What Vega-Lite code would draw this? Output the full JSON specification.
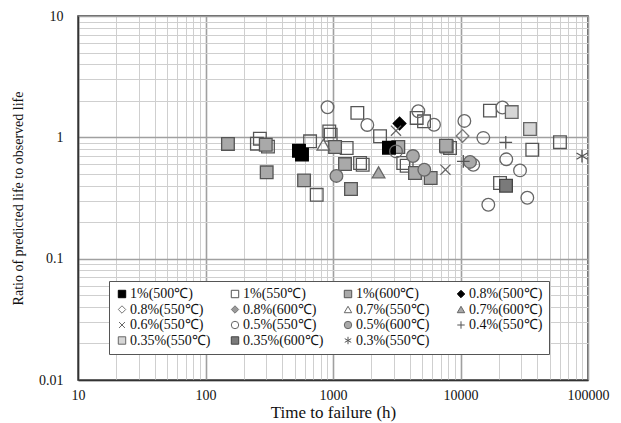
{
  "$schema": "https://vega.github.io/schema/vega-lite/v6.json",
  "autosize": "none",
  "padding": {"left": 78, "top": 16, "right": 33, "bottom": 43},
  "width": 510,
  "height": 364,
  "config": {
    "font": "Liberation Serif",
    "view": {"stroke": "#333", "strokeWidth": 1.5},
    "background": "white"
  },
  "data": {
    "values": [
      {"s": "1%(550℃)", "t": 267, "r": 0.975},
      {"s": "1%(550℃)", "t": 253, "r": 0.887},
      {"s": "1%(550℃)", "t": 309, "r": 0.838},
      {"s": "1%(550℃)", "t": 661, "r": 0.927},
      {"s": "1%(550℃)", "t": 745, "r": 0.336},
      {"s": "1%(550℃)", "t": 1552, "r": 1.59},
      {"s": "1%(550℃)", "t": 935, "r": 1.12},
      {"s": "1%(550℃)", "t": 959, "r": 1.05},
      {"s": "1%(550℃)", "t": 1280, "r": 0.817},
      {"s": "1%(550℃)", "t": 1630, "r": 0.614},
      {"s": "1%(550℃)", "t": 1710, "r": 0.594},
      {"s": "1%(550℃)", "t": 2339, "r": 1.02},
      {"s": "1%(550℃)", "t": 3556, "r": 0.614},
      {"s": "1%(550℃)", "t": 3783, "r": 0.583},
      {"s": "1%(550℃)", "t": 4530, "r": 1.445},
      {"s": "1%(550℃)", "t": 5176, "r": 1.355},
      {"s": "1%(550℃)", "t": 7800, "r": 0.84},
      {"s": "1%(550℃)", "t": 8280, "r": 0.817},
      {"s": "1%(550℃)", "t": 17020, "r": 1.66},
      {"s": "1%(550℃)", "t": 20420, "r": 0.42},
      {"s": "1%(550℃)", "t": 36560, "r": 0.79},
      {"s": "1%(550℃)", "t": 60260, "r": 0.912},
      {"s": "1%(600℃)", "t": 150, "r": 0.882},
      {"s": "1%(600℃)", "t": 297, "r": 0.869},
      {"s": "1%(600℃)", "t": 302, "r": 0.515},
      {"s": "1%(600℃)", "t": 593, "r": 0.442},
      {"s": "1%(600℃)", "t": 1038, "r": 0.832},
      {"s": "1%(600℃)", "t": 1242, "r": 0.602},
      {"s": "1%(600℃)", "t": 1384, "r": 0.375},
      {"s": "1%(600℃)", "t": 3252, "r": 0.832},
      {"s": "1%(600℃)", "t": 4396, "r": 0.508},
      {"s": "1%(600℃)", "t": 5837, "r": 0.462},
      {"s": "1%(600℃)", "t": 7690, "r": 0.853},
      {"s": "1%(500℃)", "t": 541, "r": 0.776},
      {"s": "1%(500℃)", "t": 571, "r": 0.72},
      {"s": "1%(500℃)", "t": 2748, "r": 0.822},
      {"s": "0.8%(500℃)", "t": 3327, "r": 1.3},
      {"s": "0.8%(550℃)", "t": 10380, "r": 1.026},
      {"s": "0.7%(550℃)", "t": 840, "r": 0.869},
      {"s": "0.7%(600℃)", "t": 2277, "r": 0.515},
      {"s": "0.6%(550℃)", "t": 3119, "r": 1.135},
      {"s": "0.6%(550℃)", "t": 7620, "r": 0.541},
      {"s": "0.5%(550℃)", "t": 906, "r": 1.77},
      {"s": "0.5%(550℃)", "t": 1858, "r": 1.265},
      {"s": "0.5%(550℃)", "t": 3119, "r": 0.766},
      {"s": "0.5%(550℃)", "t": 4667, "r": 1.64},
      {"s": "0.5%(550℃)", "t": 6195, "r": 1.27},
      {"s": "0.5%(550℃)", "t": 10720, "r": 1.365},
      {"s": "0.5%(550℃)", "t": 15100, "r": 0.99},
      {"s": "0.5%(550℃)", "t": 21330, "r": 1.76},
      {"s": "0.5%(550℃)", "t": 12590, "r": 0.594},
      {"s": "0.5%(550℃)", "t": 22850, "r": 0.659},
      {"s": "0.5%(550℃)", "t": 29300, "r": 0.534},
      {"s": "0.5%(550℃)", "t": 16520, "r": 0.278},
      {"s": "0.5%(550℃)", "t": 33420, "r": 0.318},
      {"s": "0.5%(600℃)", "t": 1064, "r": 0.481},
      {"s": "0.5%(600℃)", "t": 4237, "r": 0.701},
      {"s": "0.5%(600℃)", "t": 5200, "r": 0.541},
      {"s": "0.5%(600℃)", "t": 11880, "r": 0.627},
      {"s": "0.4%(550℃)", "t": 22650, "r": 0.908},
      {"s": "0.4%(550℃)", "t": 10520, "r": 0.634},
      {"s": "0.35%(550℃)", "t": 25230, "r": 1.615},
      {"s": "0.35%(550℃)", "t": 35080, "r": 1.172},
      {"s": "0.35%(600℃)", "t": 22750, "r": 0.399},
      {"s": "0.3%(550℃)", "t": 89740, "r": 0.7}
    ]
  },
  "mark": {"type": "point", "size": 160, "strokeWidth": 1.3, "opacity": 1},
  "encoding": {
    "x": {
      "field": "t", "type": "quantitative",
      "scale": {"type": "log", "domain": [10, 100000], "nice": false},
      "axis": {
        "title": "Time to failure (h)",
        "titleFontSize": 17, "titleFontWeight": "normal", "titleColor": "#111", "titlePadding": 2,
        "labelFontSize": 14, "labelColor": "#111", "labelPadding": 8, "labelOverlap": false, "labelFlush": false,
        "ticks": false, "domain": true, "domainColor": "#333", "domainWidth": 1.5,
        "values": [10,20,30,40,50,60,70,80,90,100,200,300,400,500,600,700,800,900,1000,2000,3000,4000,5000,6000,7000,8000,9000,10000,20000,30000,40000,50000,60000,70000,80000,90000,100000],
        "labelExpr": "indexof([10,100,1000,10000,100000], datum.value) >= 0 ? format(datum.value, 'd') : ''",
        "grid": true,
        "gridColor": {"condition": {"test": "indexof([10,100,1000,10000,100000], datum.value) >= 0", "value": "#a0a0a0"}, "value": "#cfcfcf"},
        "gridWidth": {"condition": {"test": "indexof([10,100,1000,10000,100000], datum.value) >= 0", "value": 1.6}, "value": 1}
      }
    },
    "y": {
      "field": "r", "type": "quantitative",
      "scale": {"type": "log", "domain": [0.01, 10], "nice": false},
      "axis": {
        "title": "Ratio of predicted life to observed life",
        "titleFontSize": 14, "titleFontWeight": "normal", "titleColor": "#111", "titlePadding": 13,
        "labelFontSize": 14, "labelColor": "#111", "labelPadding": 15, "labelOverlap": false, "labelFlush": false,
        "ticks": false, "domain": true, "domainColor": "#333", "domainWidth": 1.5,
        "values": [0.01,0.02,0.03,0.04,0.05,0.06,0.07,0.08,0.09,0.1,0.2,0.3,0.4,0.5,0.6,0.7,0.8,0.9,1,2,3,4,5,6,7,8,9,10],
        "labelExpr": "indexof([0.01,0.1,1,10], datum.value) >= 0 ? format(datum.value, '~g') : ''",
        "grid": true,
        "gridColor": {"condition": {"test": "indexof([0.01,0.1,1,10], datum.value) >= 0", "value": "#a0a0a0"}, "value": "#cfcfcf"},
        "gridWidth": {"condition": {"test": "indexof([0.01,0.1,1,10], datum.value) >= 0", "value": 1.6}, "value": 1}
      }
    },
    "shape": {
      "field": "s", "type": "nominal",
      "scale": {
        "domain": ["1%(500℃)","1%(550℃)","1%(600℃)","0.8%(500℃)","0.8%(550℃)","0.8%(600℃)","0.7%(550℃)","0.7%(600℃)","0.6%(550℃)","0.5%(550℃)","0.5%(600℃)","0.4%(550℃)","0.35%(550℃)","0.35%(600℃)","0.3%(550℃)"],
        "range": ["square","square","square","diamond","diamond","diamond","triangle-up","triangle-up","M-0.8,-0.8L0.8,0.8M-0.8,0.8L0.8,-0.8","circle","circle","M-1,0L1,0M0,-1L0,1","square","square","M0,-1L0,1M-0.87,-0.5L0.87,0.5M-0.87,0.5L0.87,-0.5"]
      },
      "legend": {
        "title": null, "orient": "none", "legendX": 31, "legendY": 265, "columns": 4, "gridAlign": "all",
        "direction": "horizontal",
        "fillColor": "white", "strokeColor": "#555", "padding": 6,
        "labelFontSize": 14, "labelColor": "#111", "labelLimit": 200, "labelOffset": 1,
        "symbolSize": 55, "symbolStrokeWidth": 1, "rowPadding": 1.5, "columnPadding": 17
      }
    },
    "fill": {
      "field": "s", "type": "nominal",
      "scale": {
        "domain": ["1%(500℃)","1%(550℃)","1%(600℃)","0.8%(500℃)","0.8%(550℃)","0.8%(600℃)","0.7%(550℃)","0.7%(600℃)","0.6%(550℃)","0.5%(550℃)","0.5%(600℃)","0.4%(550℃)","0.35%(550℃)","0.35%(600℃)","0.3%(550℃)"],
        "range": ["#000000","transparent","#a9a9a9","#000000","transparent","#9a9a9a","transparent","#a9a9a9","transparent","transparent","#a9a9a9","transparent","#d6d6d6","#7a7a7a","transparent"]
      }
    },
    "stroke": {
      "field": "s", "type": "nominal",
      "scale": {
        "domain": ["1%(500℃)","1%(550℃)","1%(600℃)","0.8%(500℃)","0.8%(550℃)","0.8%(600℃)","0.7%(550℃)","0.7%(600℃)","0.6%(550℃)","0.5%(550℃)","0.5%(600℃)","0.4%(550℃)","0.35%(550℃)","0.35%(600℃)","0.3%(550℃)"],
        "range": ["#000000","#555555","#555555","#000000","#777777","#777777","#666666","#666666","#666666","#666666","#666666","#555555","#666666","#444444","#555555"]
      }
    }
  }
}
